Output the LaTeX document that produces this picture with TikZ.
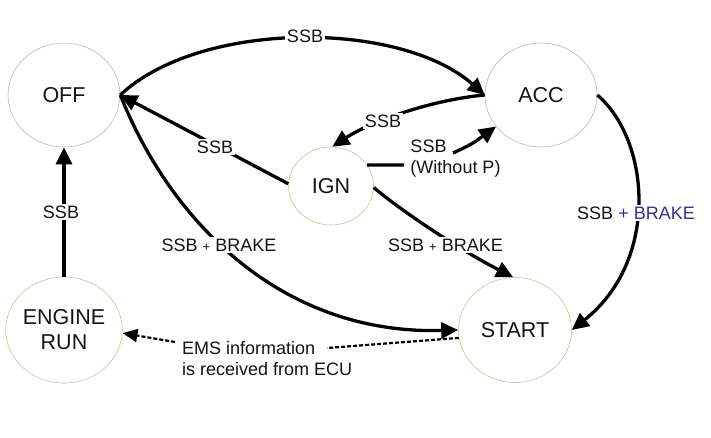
\documentclass[tikz,border=0pt]{standalone}
\usepackage{fontspec}
\setmainfont{Liberation Sans}
\usetikzlibrary{shapes.geometric,arrows.meta}
\definecolor{grayb}{RGB}{185,185,185}
\definecolor{oliveb}{RGB}{200,196,150}
\definecolor{brakeblue}{RGB}{55,50,140}
\definecolor{inkc}{RGB}{20,20,20}
\begin{document}
\begin{tikzpicture}[x=1pt,y=-1pt,
  state/.style={ellipse, draw, line width=0.6pt, fill=white, inner sep=0pt,
    text=inkc, font=\fontsize{21.5}{25}\selectfont, align=center},
  lab/.style={fill=white, inner sep=1.5pt, text=inkc, font=\fontsize{18}{21}\selectfont},
  arr/.style={line width=3.3pt, -{Triangle[length=17pt,width=16pt]}},
  plainline/.style={line width=3.3pt},
  emsline/.style={line width=2.2pt, dash pattern=on 4pt off 2pt}]
\useasboundingbox (0,0) rectangle (711,437);
\fill[white] (0,0) rectangle (711,437);

% states
\node[state, draw=grayb, minimum width=112pt, minimum height=104pt] (off) at (64,95) {OFF};
\node[state, draw=grayb, minimum width=112pt, minimum height=104pt] (acc) at (541,95) {ACC};
\node[state, draw=oliveb, minimum width=85pt, minimum height=78pt] (ign) at (331,186) {IGN};
\node[state, draw=oliveb, minimum width=114pt, minimum height=106pt] (eng) at (64,330) {ENGINE\\RUN};
\node[state, draw=oliveb, minimum width=113pt, minimum height=105pt] (start) at (515,330) {START};

% helper coordinates for split connectors
\coordinate (wp1) at (404,165);
\coordinate (wp2) at (453,153);
\coordinate (em1) at (327,348);
\coordinate (em2) at (175,342);

% dashed EMS connector
\draw[emsline] (start.188) -- (em1);
\draw[emsline, -{Triangle[length=15pt,width=13pt]}] (em2) -- (eng.357);

% connectors
\draw[arr] (off.east) .. controls (200,20) and (400,20) .. (acc.west);
\draw[arr] (acc.west) .. controls (430,100) and (370,122) .. (ign.88);
\draw[plainline] (ign.30) .. controls (385,165) .. (wp1);
\draw[arr] (wp2) .. controls (472,144) .. (acc.215);
\draw[arr] (ign.177) -- (off.east);
\draw[arr] (off.east) .. controls (170,220) and (280,335) .. (start.west);
\draw[arr] (ign.358) .. controls (400,210) and (460,250) .. (start.92);
\draw[arr] (acc.east) .. controls (650,140) and (660,260) .. (start.east);
\draw[arr] (eng.north) -- (off.south);

% labels
\node[lab] (l1) at (305,36) {SSB};
\node[lab] (l2) at (383,121) {SSB};
\node[text=inkc, font=\fontsize{18}{21}\selectfont, align=left, inner sep=0pt] (l3) at (455.5,158.5) {SSB\\(Without P)};
\node[lab] (l4) at (215,147) {SSB};
\node[lab] (l5) at (61,212) {SSB};
\node[lab] (l6) at (219,245) {SSB {\fontsize{13}{13}\selectfont +} BRAKE};
\node[lab] (l7) at (445.5,245) {SSB {\fontsize{13}{13}\selectfont +} BRAKE};
\node[lab] (l8) at (636,213) {SSB \textcolor{brakeblue}{+ BRAKE}};
\node[text=inkc, font=\fontsize{18}{21}\selectfont, align=left, inner sep=0pt, anchor=west] (l9) at (182,358.5) {EMS information\\is received from ECU};
\end{tikzpicture}
\end{document}
